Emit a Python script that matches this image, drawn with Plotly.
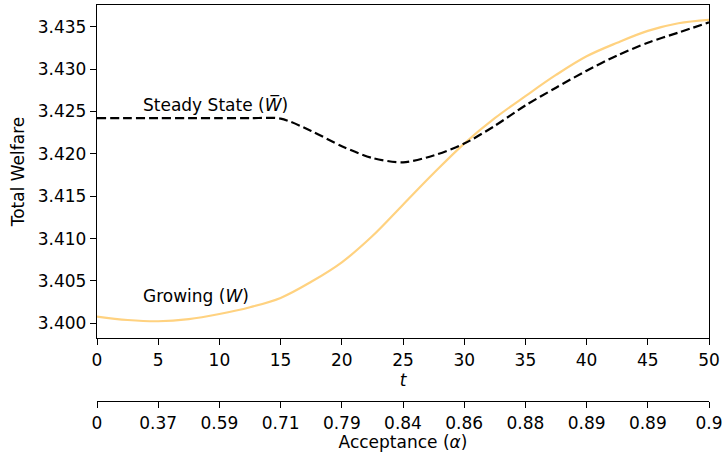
import plotly.graph_objects as go

t = [0, 2.5, 5, 7.5, 10, 12.5, 15, 17.5, 20, 22.5, 25, 27.5, 30, 32.5, 35, 37.5, 40, 42.5, 45, 47.5, 50]
steady = [3.4242, 3.4242, 3.4242, 3.4242, 3.4242, 3.4242, 3.42415, 3.4227, 3.4209, 3.4195, 3.4190,
          3.4198, 3.4212, 3.4233, 3.4257, 3.4278, 3.4298, 3.4316, 3.4331, 3.4343, 3.4355]
growing = [3.4008, 3.4004, 3.40025, 3.4005, 3.4011, 3.4019, 3.4030, 3.4049, 3.4072, 3.4103, 3.4140,
           3.4177, 3.4212, 3.4242, 3.4268, 3.4293, 3.4315, 3.4331, 3.4345, 3.4354, 3.4358]

t_ticks = [0, 5, 10, 15, 20, 25, 30, 35, 40, 45, 50]
alpha_labels = ["0", "0.37", "0.59", "0.71", "0.79", "0.84", "0.86", "0.88", "0.89", "0.89", "0.9"]
y_ticks = [3.400, 3.405, 3.410, 3.415, 3.420, 3.425, 3.430, 3.435]

FONT = "DejaVu Sans"
FS = 17

fig = go.Figure()
fig.add_trace(go.Scatter(x=t, y=growing, mode="lines", line=dict(color="#FFD280", width=2.2, shape="spline"),
                         showlegend=False, hoverinfo="skip"))
fig.add_trace(go.Scatter(x=t, y=steady, mode="lines",
                         line=dict(color="black", width=2.2, dash="9px,4px", shape="spline", smoothing=0.8),
                         showlegend=False, hoverinfo="skip"))
# helper trace to attach secondary axis
fig.add_trace(go.Scatter(x=t_ticks, y=[None] * len(t_ticks), xaxis="x2", mode="markers",
                         marker=dict(opacity=0), showlegend=False, hoverinfo="skip"))

fig.add_annotation(x=3.6, y=3.42586, text="Steady State (<i>W̅</i>)", showarrow=False,
                   xanchor="left", yanchor="middle", font=dict(family=FONT, size=FS, color="black"))
fig.add_annotation(x=3.6, y=3.40327, text="Growing (<i>W</i>)", showarrow=False,
                   xanchor="left", yanchor="middle", font=dict(family=FONT, size=FS, color="black"))

axis_common = dict(showline=True, linecolor="black", linewidth=1.3, ticks="outside", ticklen=6,
                   tickwidth=1.2, tickcolor="black", showgrid=False, zeroline=False,
                   tickfont=dict(family=FONT, size=FS, color="black"))

fig.update_layout(
    width=724, height=452,
    margin=dict(l=97, r=15, t=5, b=51),
    paper_bgcolor="white", plot_bgcolor="white",
    font=dict(family=FONT, size=FS, color="black"),
    xaxis=dict(range=[0, 50], tickvals=t_ticks, mirror=True, automargin=False,
               title=dict(text="<i>t</i>", standoff=4, font=dict(family=FONT, size=FS)),
               **axis_common),
    yaxis=dict(range=[3.39827, 3.43755], tickvals=y_ticks, tickformat=".3f", mirror=True,
               domain=[0.159, 1], automargin=False,
               title=dict(text="Total Welfare", standoff=8, font=dict(family=FONT, size=FS)),
               **axis_common),
    xaxis2=dict(range=[0, 50], tickvals=t_ticks, ticktext=alpha_labels, overlaying="x",
                anchor="free", position=0, side="bottom", automargin=False,
                title=dict(text="Acceptance (<i>α</i>)", standoff=4, font=dict(family=FONT, size=FS)),
                **axis_common),
)

fig.write_html("out.html", config={"displayModeBar": False},
               post_script="document.body.style.margin='0';document.body.style.overflow='hidden';")
